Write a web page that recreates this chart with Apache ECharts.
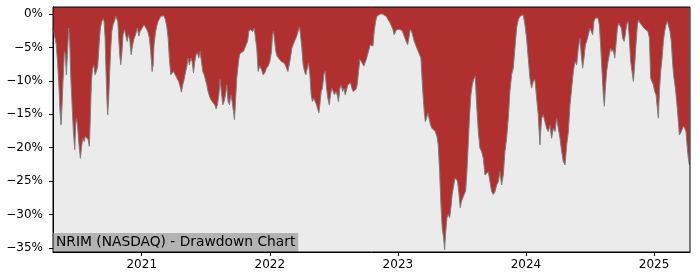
<!DOCTYPE html>
<html>
<head>
<meta charset="utf-8">
<script src="https://cdn.jsdelivr.net/npm/echarts@6/dist/echarts.min.js"></script>
<style>html,body{margin:0;padding:0;background:#fff;}#c{width:700px;height:280px;}</style>
</head>
<body>
<div id="c"></div>
<script>
// Dates as decimal years, drawdown in percent
const dateYears = [
2020.307,2020.315,2020.323,2020.333,2020.344,2020.354,2020.362,2020.370,2020.378,2020.385,
2020.396,2020.404,2020.411,2020.419,2020.430,2020.438,2020.445,2020.456,2020.466,2020.477,
2020.484,2020.492,2020.500,2020.510,2020.521,2020.529,2020.539,2020.550,2020.560,2020.570,
2020.581,2020.591,2020.599,2020.607,2020.615,2020.625,2020.636,2020.646,2020.656,2020.667,
2020.677,2020.688,2020.698,2020.706,2020.714,2020.721,2020.729,2020.734,2020.742,2020.750,
2020.758,2020.766,2020.776,2020.787,2020.797,2020.805,2020.813,2020.820,2020.828,2020.836,
2020.844,2020.854,2020.865,2020.875,2020.886,2020.896,2020.906,2020.917,2020.927,2020.938,
2020.948,2020.958,2020.966,2020.977,2020.987,2020.997,2021.008,2021.018,2021.029,2021.039,
2021.050,2021.060,2021.070,2021.081,2021.089,2021.096,2021.107,2021.117,2021.128,
2021.133,2021.148,2021.159,2021.172,2021.185,2021.195,2021.206,2021.216,2021.227,2021.237,
2021.247,2021.258,2021.268,2021.279,2021.289,2021.299,2021.310,2021.320,2021.331,2021.341,
2021.352,2021.362,2021.372,2021.383,2021.393,2021.404,2021.414,2021.424,2021.435,2021.445,
2021.456,2021.466,2021.477,2021.487,2021.497,2021.508,2021.518,2021.529,2021.539,2021.550,
2021.560,2021.570,2021.581,2021.591,2021.602,2021.612,2021.622,2021.633,2021.643,2021.654,
2021.664,2021.674,2021.685,2021.695,2021.706,2021.716,2021.724,2021.732,2021.742,2021.753,
2021.763,2021.773,2021.784,2021.794,2021.805,2021.815,2021.826,2021.836,2021.846,2021.857,
2021.867,2021.878,2021.888,2021.898,2021.909,
2021.922,2021.935,2021.948,2021.961,2021.974,2021.987,2022.000,2022.013,2022.021,2022.029,
2022.039,2022.047,2022.057,2022.068,2022.078,2022.089,2022.099,2022.109,2022.120,2022.130,
2022.141,2022.151,2022.161,2022.172,2022.182,2022.193,2022.203,2022.214,2022.224,2022.232,
2022.240,2022.250,2022.260,2022.271,2022.281,2022.292,2022.302,2022.313,2022.323,2022.333,
2022.344,2022.354,2022.365,2022.375,2022.383,2022.391,2022.401,2022.411,2022.422,2022.432,
2022.443,2022.453,2022.464,2022.474,2022.484,2022.495,2022.505,2022.516,2022.526,2022.536,
2022.547,2022.557,2022.568,2022.578,2022.589,2022.599,2022.609,2022.620,2022.630,2022.641,
2022.651,2022.661,2022.672,2022.682,2022.693,2022.703,2022.714,2022.724,2022.734,
2022.742,2022.753,2022.763,2022.773,2022.784,2022.794,2022.805,2022.815,2022.826,2022.836,
2022.846,2022.862,2022.878,2022.893,2022.909,2022.924,2022.940,2022.951,2022.961,2022.971,
2022.982,2022.992,2023.003,2023.013,2023.023,2023.034,2023.044,2023.055,2023.065,2023.076,
2023.086,2023.096,2023.107,2023.117,2023.128,2023.138,2023.148,2023.159,2023.169,2023.180,
2023.190,2023.198,2023.206,2023.214,2023.224,2023.234,2023.245,2023.255,2023.266,2023.279,
2023.292,2023.305,2023.315,2023.326,2023.336,2023.346,2023.357,2023.365,2023.372,2023.383,
2023.393,2023.404,2023.414,2023.424,2023.435,2023.445,2023.456,2023.466,2023.477,2023.487,
2023.497,2023.508,2023.518,2023.529,2023.539,2023.549,2023.560,2023.570,2023.581,2023.591,
2023.604,2023.615,2023.628,2023.641,2023.654,2023.667,2023.680,2023.693,2023.706,2023.719,
2023.732,2023.745,2023.758,2023.771,2023.784,2023.797,2023.810,2023.823,2023.836,2023.849,
2023.862,2023.875,2023.888,2023.901,2023.914,2023.927,2023.940,2023.953,2023.966,2023.979,
2023.992,2024.005,2024.018,2024.031,2024.044,2024.057,2024.070,2024.083,2024.096,2024.109,
2024.122,2024.135,2024.148,2024.161,2024.174,2024.188,2024.200,2024.214,2024.227,2024.240,
2024.253,2024.266,2024.279,2024.292,2024.305,2024.318,2024.331,2024.344,2024.357,2024.370,
2024.383,2024.396,2024.409,2024.422,
2024.432,2024.443,2024.453,2024.464,2024.474,2024.487,2024.500,2024.513,2024.521,2024.531,
2024.542,2024.552,2024.562,2024.573,2024.583,2024.594,2024.604,2024.612,2024.620,2024.630,
2024.641,2024.651,2024.661,2024.672,2024.682,2024.693,2024.703,2024.714,2024.724,2024.734,
2024.745,2024.755,2024.766,2024.776,2024.786,2024.797,2024.807,2024.818,2024.828,2024.839,
2024.849,2024.859,2024.870,2024.880,2024.891,2024.901,2024.911,2024.922,2024.932,2024.943,
2024.953,2024.964,2024.974,2024.984,2024.995,2025.005,2025.016,2025.026,2025.034,2025.042,
2025.052,2025.063,2025.073,2025.083,2025.094,2025.104,2025.115,2025.125,2025.135,2025.146,
2025.156,2025.167,2025.177,2025.188,2025.198,2025.208,2025.219,2025.229,2025.240,2025.250,
2025.260,2025.268,2025.276
];
const drawdownPct = [
-2.2,-3.1,-3.6,-4.6,-7.6,-11.1,-14.6,-16.6,-13.6,-10.1,
-5.6,-6.1,-9.1,-6.1,-2.1,-4.1,-9.1,-13.6,-17.6,-20.3,
-16.6,-15.6,-17.1,-19.6,-21.6,-20.1,-18.6,-19.1,-18.3,-18.1,
-18.8,-19.8,-15.1,-10.1,-8.3,-7.6,-9.1,-8.6,-7.8,-4.6,
-2.1,-1.1,-0.7,-1.1,-3.6,-8.6,-13.1,-15.1,-12.6,-8.6,
-5.1,-2.6,-1.6,-1.1,-0.35,-0.1,-1.1,-3.6,-6.1,-7.6,
-6.1,-3.1,-2.3,-2.2,-4.1,-3.1,-3.8,-6.1,-4.8,-3.8,
-3.3,-3.1,-2.1,-3.3,-2.6,-2.3,-2.1,-1.6,-1.8,-2.3,
-2.8,-3.6,-5.6,-8.6,-7.6,-4.6,-2.8,-1.8,-1.1,
-0.85,-0.35,-0.1,-0.25,-0.85,-1.8,-3.6,-6.8,-9.1,-9.3,
-8.6,-8.8,-9.3,-9.8,-10.1,-10.8,-11.7,-10.6,-9.8,-8.8,
-7.8,-6.6,-7.6,-6.6,-7.1,-8.8,-7.1,-6.1,-5.8,-6.6,
-5.6,-7.1,-8.6,-9.1,-9.8,-10.6,-11.6,-12.3,-12.8,-13.1,
-13.3,-13.6,-14.2,-13.6,-12.1,-9.8,-11.8,-13.6,-13.1,-12.1,
-10.6,-13.1,-13.6,-12.1,-13.1,-14.6,-15.8,-13.1,-9.6,-7.6,
-6.1,-5.8,-5.6,-5.6,-5.1,-4.6,-4.1,-2.6,-2.3,-2.1,
-2.6,-2.1,-3.6,-5.1,-8.6,
-7.8,-8.3,-9.1,-8.8,-8.1,-7.8,-7.1,-5.6,-3.1,-2.6,
-2.8,-5.6,-6.3,-6.6,-6.8,-7.1,-7.3,-7.3,-7.6,-7.8,
-8.6,-8.6,-6.6,-5.1,-5.1,-4.1,-3.6,-3.1,-2.3,-2.0,
-3.1,-5.1,-7.6,-8.6,-9.1,-9.1,-7.3,-9.1,-12.1,-13.1,
-12.6,-13.1,-13.6,-14.3,-14.8,-13.6,-11.6,-11.1,-9.1,-8.6,
-11.1,-12.6,-13.6,-12.1,-11.1,-11.6,-12.1,-11.6,-12.1,-13.1,
-11.1,-10.6,-11.6,-11.1,-12.1,-12.1,-10.6,-10.6,-10.3,-11.1,
-11.6,-11.6,-11.3,-10.6,-8.6,-6.8,-7.1,-7.3,-7.8,
-7.8,-6.8,-6.1,-6.1,-4.6,-4.6,-4.8,-2.6,-1.1,-0.35,
-0.1,0,0,-0.1,-0.35,-0.85,-1.35,-1.6,-2.3,-3.1,
-2.6,-2.3,-2.3,-2.3,-2.3,-2.5,-2.7,-3.6,-4.1,-4.6,
-3.6,-2.3,-2.6,-3.3,-4.1,-4.6,-5.1,-5.6,-5.8,-6.6,
-10.1,-12.6,-14.6,-16.1,-15.6,-14.8,-14.6,-16.6,-17.1,-17.3,
-17.6,-18.3,-19.6,-23.6,-28.5,-32.0,-33.5,-35.3,-33.0,-30.5,
-30.0,-30.5,-29.0,-27.0,-25.8,-24.6,-24.6,-25.0,-27.0,-29.0,
-28.0,-27.5,-27.0,-26.5,-23.6,-19.6,-15.1,-12.1,-10.6,-9.8,
-9.3,-13.6,-17.6,-20.1,-20.6,-21.6,-24.1,-24.3,-23.6,-25.1,
-26.6,-27.0,-26.6,-25.6,-25.1,-23.6,-25.6,-24.1,-20.6,-18.6,
-15.6,-11.6,-9.1,-8.1,-5.1,-2.1,-0.85,-0.35,-0.6,-0.1,
-1.6,-3.6,-6.6,-9.6,-11.1,-10.1,-9.8,-9.6,-15.1,-19.6,
-15.6,-15.1,-16.1,-17.1,-17.6,-16.6,-18.6,-17.1,-17.6,-15.6,
-17.1,-18.6,-20.6,-22.1,-22.6,-19.6,-17.6,-13.6,-11.1,-8.6,
-7.1,-7.6,-5.1,-3.6,
-6.1,-8.1,-6.6,-4.6,-4.1,-3.1,-2.1,-2.3,-3.1,-1.1,
-0.6,-0.35,-0.6,-1.6,-4.6,-8.6,-12.1,-13.8,-11.1,-8.6,
-7.1,-6.1,-5.1,-5.6,-5.3,-6.6,-4.6,-2.1,-1.35,-1.6,
-2.1,-3.6,-4.1,-3.1,-1.6,-1.1,-3.6,-7.1,-8.6,-10.1,
-7.6,-4.6,-1.6,-0.85,-1.35,-1.1,-1.85,-2.1,-2.3,-2.3,
-2.6,-3.6,-9.6,-10.1,-10.6,-11.6,-12.1,-14.1,-15.6,-11.6,
-8.6,-6.6,-4.1,-2.6,-1.6,-1.1,-1.35,-2.6,-4.1,-7.6,
-9.6,-11.1,-13.1,-15.6,-18.1,-17.8,-17.3,-16.8,-17.1,-17.6,
-20.1,-21.6,-22.6
];
const yearTicks = [2021, 2022, 2023, 2024, 2025];
const pctTicks = [0, -5, -10, -15, -20, -25, -30, -35];
const chartLabel = 'NRIM (NASDAQ) - Drawdown Chart';

const FONT = 'DejaVu Sans';
const chart = echarts.init(document.getElementById('c'), null, {renderer: 'canvas'});
const seriesData = dateYears.map((y, i) => [y, drawdownPct[i]]);

chart.setOption({
  animation: false,
  grid: {left: 53, right: 10, top: 7, bottom: 28, show: true, backgroundColor: '#ebebeb', borderWidth: 0},
  xAxis: {
    type: 'value', min: 2020.307, max: 2025.281,
    axisLine: {show: true, onZero: false, lineStyle: {color: '#000', width: 1}},
    axisTick: {show: true, length: 4, customValues: yearTicks, lineStyle: {color: '#000'}},
    axisLabel: {customValues: yearTicks, formatter: v => String(v), color: '#000', fontSize: 12, fontFamily: FONT, margin: 7},
    splitLine: {show: false}
  },
  yAxis: {
    type: 'value', min: -35.63, max: 1.05,
    axisLine: {show: true, lineStyle: {color: '#000', width: 1}},
    axisTick: {show: true, length: 4, customValues: pctTicks, lineStyle: {color: '#000'}},
    axisLabel: {customValues: pctTicks, formatter: v => (v < 0 ? '\u2212' : '') + Math.abs(v) + '%', color: '#000', fontSize: 12, fontFamily: FONT, margin: 10},
    splitLine: {show: false}
  },
  series: [{
    type: 'line', data: seriesData, symbol: 'none', showSymbol: false,
    lineStyle: {color: '#7d7d7d', width: 1},
    areaStyle: {color: '#b03030', opacity: 1, origin: 'end'},
    clip: true
  }],
  graphic: [
    {type: 'text', left: 53, bottom: 28, z: 50,
      style: {text: chartLabel, fill: '#000', font: '13.8px "DejaVu Sans"', backgroundColor: '#b3b3b3', padding: [2, 3, 2, 3], lineHeight: 15}},
    {type: 'rect', z: 100, shape: {x: 53, y: 7, width: 637, height: 245},
      style: {fill: null, stroke: '#000', lineWidth: 1}}
  ]
});
</script>
</body>
</html>
